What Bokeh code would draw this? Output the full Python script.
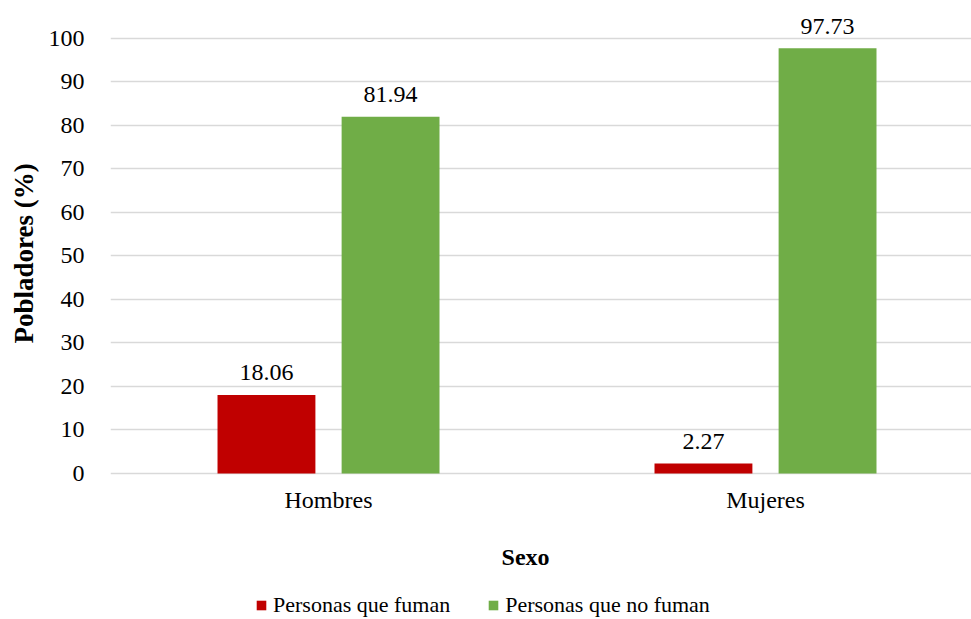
import numpy as np
from bokeh.plotting import figure
from bokeh.models import (ColumnDataSource, Range1d, FixedTicker, Legend,
                          LegendItem, Label, Title)
from bokeh.embed import file_html
from bokeh.resources import INLINE

# Smoking prevalence by sex (%)
categories = ["Hombres", "Mujeres"]
fuman = [18.06, 2.27]
no_fuman = [81.94, 97.73]
y_ticks = [0, 10, 20, 30, 40, 50, 60, 70, 80, 90, 100]

FONT = "Liberation Serif"
RED = "#C00000"
GREEN = "#70AD47"

idx = np.arange(len(categories))
offset = 0.142
bar_w = 0.224

src_f = ColumnDataSource(dict(x=idx - offset, top=fuman,
                              lbl=[f"{v:.2f}" for v in fuman]))
src_n = ColumnDataSource(dict(x=idx + offset, top=no_fuman,
                              lbl=[f"{v:.2f}" for v in no_fuman]))
src_c = ColumnDataSource(dict(x=idx, y=np.zeros(len(idx)), name=categories))

# the frame runs down to the bottom edge so the category names,
# the axis title and the legend can sit below the zero line
p = figure(width=971, height=619, output_backend="svg", toolbar_location=None,
           x_range=Range1d(-0.4989, 1.4714), y_range=Range1d(-33.55, 105),
           min_border_left=110, min_border_right=0, min_border_top=16,
           min_border_bottom=0)
p.outline_line_color = None
p.background_fill_color = "white"
p.border_fill_color = "white"

r_f = p.vbar(x="x", top="top", width=bar_w, source=src_f,
             fill_color=RED, line_color=None)
r_n = p.vbar(x="x", top="top", width=bar_w, source=src_n,
             fill_color=GREEN, line_color=None)

for src in (src_f, src_n):
    p.text(x="x", y="top", text="lbl", source=src, text_align="center",
           text_baseline="alphabetic", y_offset=-22,
           text_font=FONT, text_font_size="24px", text_color="#000000")

# category names under each group
p.text(x="x", y="y", text="name", source=src_c, text_align="center",
       text_baseline="top", y_offset=14, text_font=FONT,
       text_font_size="24px", text_color="#000000")

p.xaxis.visible = False

p.yaxis.ticker = FixedTicker(ticks=y_ticks)
p.yaxis.major_label_text_font = FONT
p.yaxis.major_label_text_font_size = "24px"
p.yaxis.major_label_text_color = "#000000"
p.yaxis.major_label_standoff = 20
p.yaxis.axis_line_color = None
p.yaxis.major_tick_line_color = None
p.yaxis.minor_tick_line_color = None

p.xgrid.grid_line_color = None
p.ygrid.grid_line_color = "#D9D9D9"
p.ygrid.grid_line_width = 1.3

# y-axis title, placed beside the 0-100 span
p.add_layout(Title(text="Pobladores (%)", align="left", offset=276,
                   text_font=FONT, text_font_size="27px",
                   text_font_style="bold", text_color="#000000",
                   standoff=13), "left")

# x-axis title
p.add_layout(Label(x=0.451, y=-19.3, text="Sexo", text_align="center",
                   text_baseline="middle", text_font=FONT,
                   text_font_size="24px", text_font_style="bold",
                   text_color="#000000"))

legend = Legend(items=[LegendItem(label="Personas que fuman", renderers=[r_f]),
                       LegendItem(label="Personas que no fuman", renderers=[r_n])],
                orientation="horizontal", location=(145, 1),
                label_text_font=FONT, label_text_font_size="22px",
                label_text_color="#000000", glyph_width=12, glyph_height=12,
                label_standoff=6, spacing=37, padding=0, margin=0,
                border_line_color=None, background_fill_alpha=0)
p.add_layout(legend, "center")

open("out.html", "w").write(file_html(p, INLINE))
